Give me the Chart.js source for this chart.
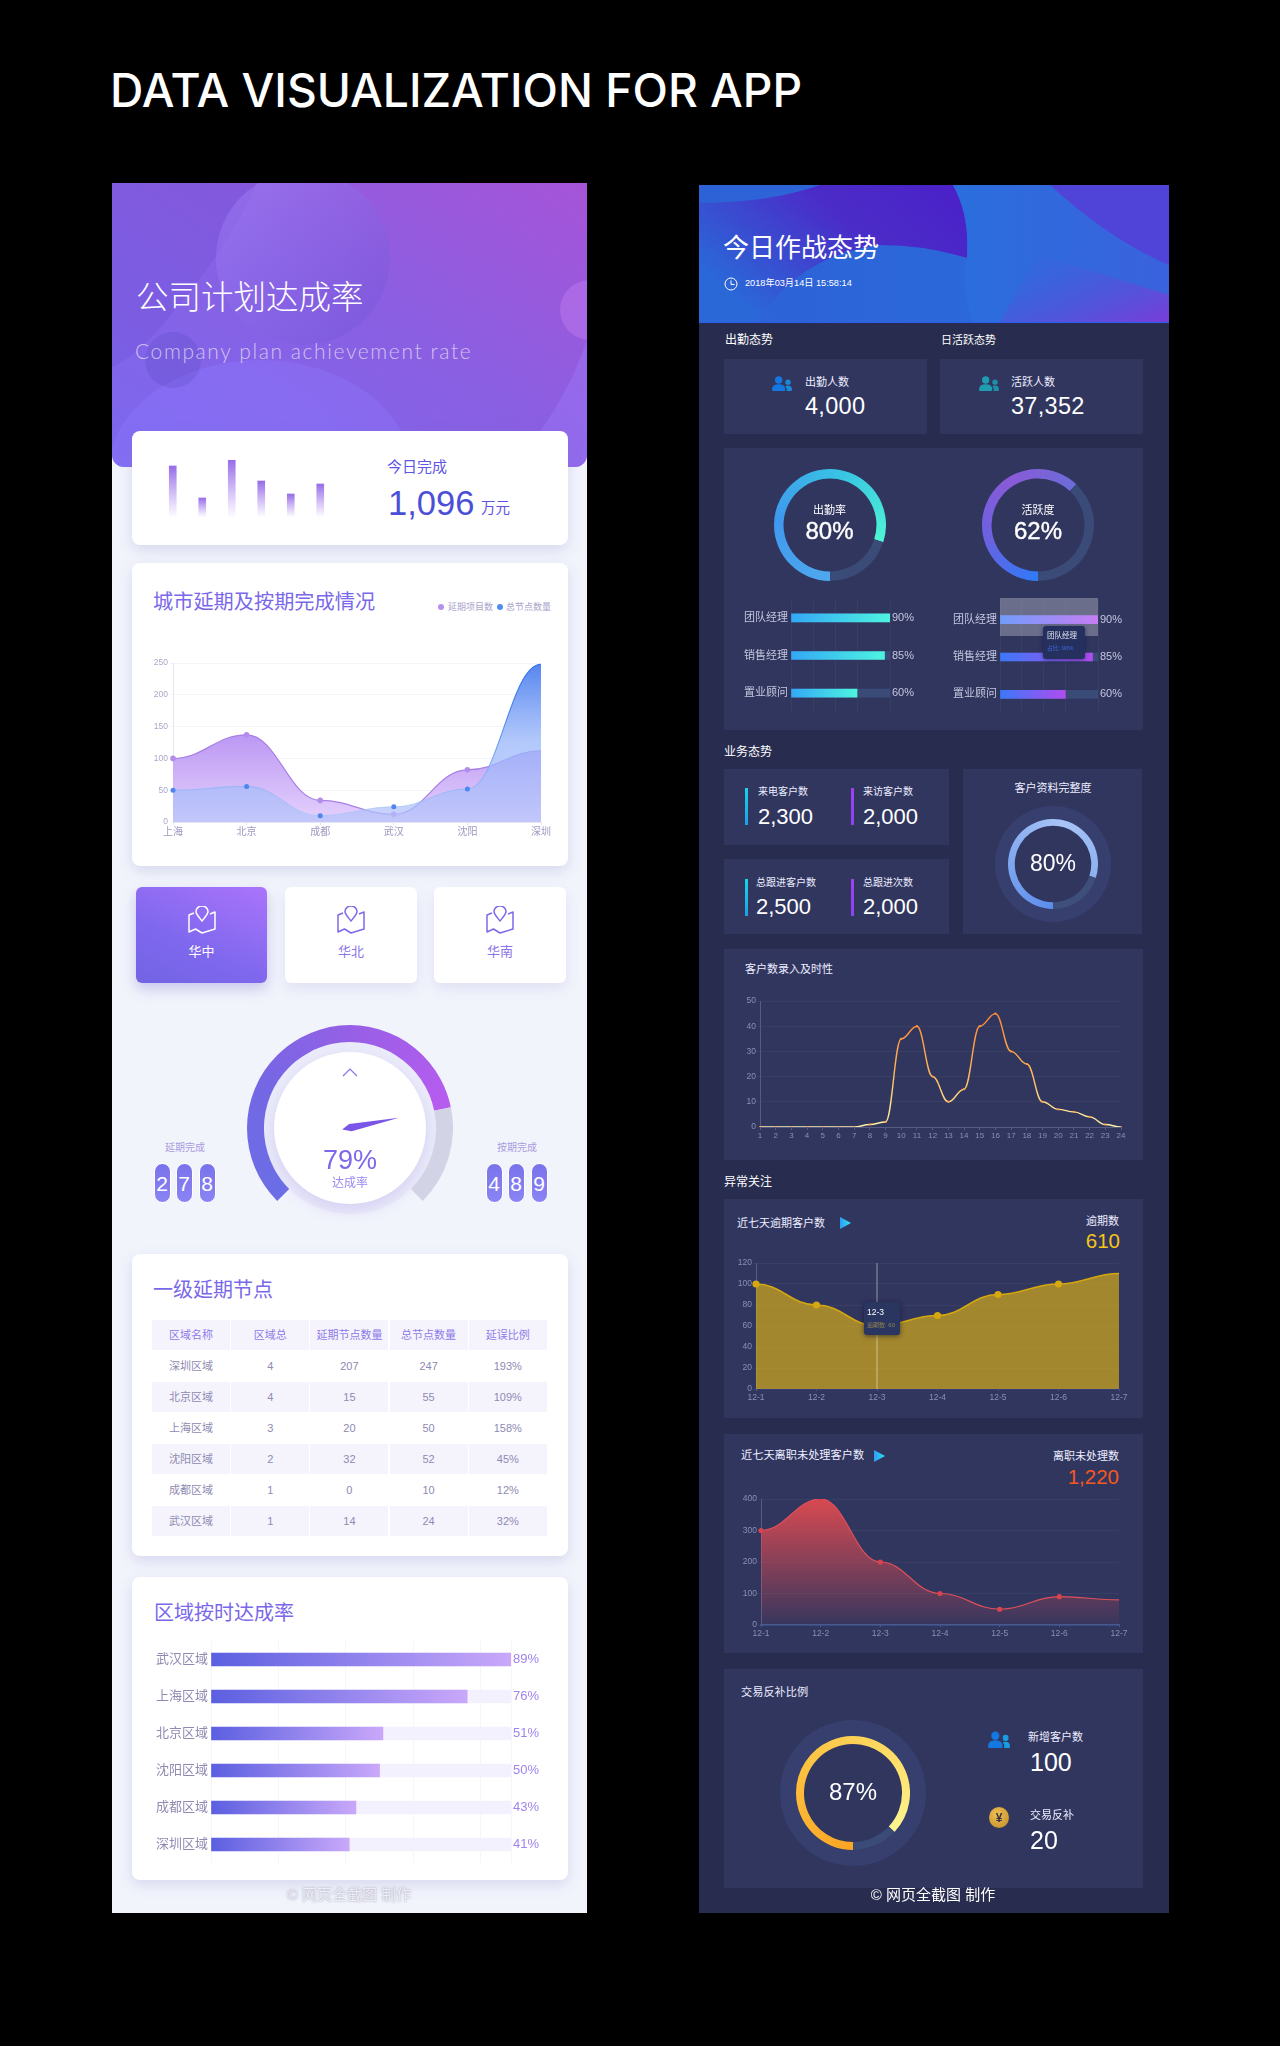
<!DOCTYPE html>
<html>
<head>
<meta charset="utf-8">
<title>Data visualization for app</title>
<script src="https://cdn.jsdelivr.net/npm/chart.js@4/dist/chart.umd.min.js"></script>
<style>
  html, body { margin: 0; padding: 0; background: #000; }
  #page { position: relative; width: 1280px; height: 2046px; overflow: hidden; background: #000;
    font-family: "Liberation Sans", "Noto Sans CJK SC", sans-serif; }
  #page > * { position: absolute; }
  .t { line-height: 1; white-space: nowrap; }
</style>
</head>
<body>
<div id="page"></div>
<script>
// ---- data ----
const miniValues = [51, 19, 57, 36, 23, 33];
const cityLabels = ["上海", "北京", "成都", "武汉", "沈阳", "深圳"];
const delayedProjects = [100, 137, 34, 12, 82, 112];
const totalNodes = [50, 56, 10, 24, 52, 248];
const gaugeRate = 79;
const tableHead = ["区域名称", "区域总", "延期节点数量", "总节点数量", "延误比例"];
const tableRows = [
  ["深圳区域", "4", "207", "247", "193%"],
  ["北京区域", "4", "15", "55", "109%"],
  ["上海区域", "3", "20", "50", "158%"],
  ["沈阳区域", "2", "32", "52", "45%"],
  ["成都区域", "1", "0", "10", "12%"],
  ["武汉区域", "1", "14", "24", "32%"]
];
const regionLabels = ["武汉区域", "上海区域", "北京区域", "沈阳区域", "成都区域", "深圳区域"];
const regionRates = [89, 76, 51, 50, 43, 41];
const roleLabels = ["团队经理", "销售经理", "置业顾问"];
const attendRates = [90, 85, 60];
const activeRates = [90, 85, 60];
const attendRing = [80, 20];
const activeRing = [62, 38];
const profileRing = [80, 20];
const tradeRing = [87, 13];
const hourLabels = ["1","2","3","4","5","6","7","8","9","10","11","12","13","14","15","16","17","18","19","20","21","22","23","24"];
const hourValues = [0, 0, 0, 0, 0, 0, 0, 1, 2, 35, 40, 20, 10, 15, 40, 45, 30, 25, 10, 7, 6, 4, 1, 0];
const dayLabels = ["12-1", "12-2", "12-3", "12-4", "12-5", "12-6", "12-7"];
const overdueValues = [100, 80, 60, 70, 90, 100, 110];
const leftValues = [300, 400, 200, 100, 50, 90, 80];

const FONT = '"Liberation Sans", "Noto Sans CJK SC", sans-serif';
Chart.defaults.font.family = FONT;
Chart.defaults.animation = false;
Chart.defaults.responsive = false;
Chart.defaults.plugins.legend.display = false;
Chart.defaults.plugins.tooltip.enabled = false;

const page = document.getElementById("page");

// ---- small dom helpers ----
function box(x0, y0, x1, y1, bg, extra) {
  const d = document.createElement("div");
  d.style.cssText = `left:${x0}px;top:${y0}px;width:${x1 - x0}px;height:${y1 - y0}px;background:${bg};${extra || ""}`;
  page.appendChild(d);
  return d;
}
function txt(x, cy, str, size, color, align, extra) {
  const d = document.createElement("div");
  d.className = "t";
  d.textContent = str;
  const tx = align === "center" ? "-50%" : align === "right" ? "-100%" : "0";
  d.style.cssText = `left:${x}px;top:${cy}px;font-size:${size}px;color:${color};transform:translate(${tx},-50%);${extra || ""}`;
  page.appendChild(d);
  return d;
}
function svg(x, y, w, h, viewBox, inner) {
  const d = document.createElement("div");
  d.style.cssText = `left:${x}px;top:${y}px;width:${w}px;height:${h}px;`;
  d.innerHTML = `<svg xmlns="http://www.w3.org/2000/svg" width="${w}" height="${h}" viewBox="${viewBox}" preserveAspectRatio="none" style="display:block">${inner}</svg>`;
  page.appendChild(d);
  return d;
}
function people(x, y, w, h, c1, c2) {
  svg(x, y, w, h, "0 0 30 22",
    `<circle cx="24" cy="9" r="4" fill="${c2}"/><path d="M22 22H28Q30 22 30 20Q30 14 24 14Q21 14 20 15Q23 17 22 22Z" fill="${c2}"/>` +
    `<circle cx="10" cy="6" r="5.5" fill="${c1}"/><path d="M0 20Q0 12 10 12Q20 12 20 20Q20 22 18 22H2Q0 22 0 20Z" fill="${c1}"/>`);
}
function arrow(x, y) {
  box(x, y, x + 11, y + 12, "linear-gradient(90deg,#2f9cf5,#2fe4ee)", "clip-path:polygon(0 0,100% 50%,0 100%);");
}
function canvasAt(x, y, w, h) {
  const c = document.createElement("canvas");
  c.width = w;
  c.height = h;
  c.style.cssText = `left:${x}px;top:${y}px;width:${w}px;height:${h}px;`;
  page.appendChild(c);
  return c;
}
// canvas whose plot area lands on x0..x1 / y0..y1
function plotCanvas(x0, y0, x1, y1, padL, padR, padT, padB) {
  return canvasAt(x0 - padL, y0 - padT, x1 - x0 + padL + padR, y1 - y0 + padT + padB);
}
const fitW = w => s => { s.width = w; };
const fitH = h => s => { s.height = h; };

// curves leave every point level, like the original
const flatCurve = {
  id: "flatCurve",
  beforeDatasetsDraw(chart) {
    chart.getSortedVisibleDatasetMetas().forEach(meta => {
      if (meta.type !== "line") return;
      meta.dataset.updateControlPoints(chart.chartArea, "x");
      const pts = meta.data;
      pts.forEach((p, i) => {
        const prev = pts[i - 1], next = pts[i + 1];
        p.cp1x = prev ? p.x - (p.x - prev.x) * 0.42 : p.x;
        p.cp1y = p.y;
        p.cp2x = next ? p.x + (next.x - p.x) * 0.42 : p.x;
        p.cp2y = p.y;
      });
    });
  }
};
Chart.register(flatCurve);

function vGrad(chart, top, bottom, stops) {
  const g = chart.ctx.createLinearGradient(0, top, 0, bottom);
  stops.forEach((c, i) => g.addColorStop(i / (stops.length - 1), c));
  return g;
}
const noLast = r => c => (c.dataIndex === c.dataset.data.length - 1 ? 0 : r);

function ring(cx, cy, R, cut, values, startDeg, sweep, stops, track) {
  // a partial ring gets fitted to the canvas, so cut the canvas to its bounding box
  const h = sweep < 360 ? Math.ceil(R * 1.7072) : R * 2;
  const c = canvasAt(cx - R, cy - R, R * 2, h);
  const canvasAngle = (startDeg - 90) * Math.PI / 180 - 0.05;
  const share = values[0] / (values[0] + values[1]) * sweep / 360;
  new Chart(c, {
    type: "doughnut",
    data: {
      datasets: [{
        data: values,
        borderWidth: 0,
        backgroundColor(ctx) {
          if (ctx.dataIndex === 1) return track;
          const g = ctx.chart.ctx.createConicGradient(canvasAngle, R, R);
          stops.forEach((col, i) => g.addColorStop(0.008 + i / (stops.length - 1) * share, col));
          return g;
        }
      }]
    },
    options: { rotation: startDeg, circumference: sweep, cutout: cut, events: [] }
  });
}

function hBars(x0, y0, x1, y1, labels, values, barH, padL, padR, colors, track, grid, labelFont, labelColor, valueFont, valueColor) {
  const top = Math.max(...values);
  new Chart(plotCanvas(x0, y0, x1, y1, padL, padR, 14, 14), {
    type: "bar",
    data: {
      labels: labels,
      datasets: [
        {
          data: values, grouped: false, barThickness: barH,
          backgroundColor(ctx) {
            const sx = ctx.chart.scales.x;
            if (!ctx.chart.chartArea) return colors[0];
            const g = ctx.chart.ctx.createLinearGradient(sx.left, 0, sx.getPixelForValue(ctx.raw), 0);
            g.addColorStop(0, colors[0]);
            g.addColorStop(1, colors[1]);
            return g;
          }
        },
        { data: values.map(() => top), grouped: false, barThickness: barH, backgroundColor: track }
      ]
    },
    options: {
      indexAxis: "y",
      layout: { padding: { top: 14, bottom: 14 } },
      scales: {
        x: { min: 0, max: top, ticks: { display: false, stepSize: 20 }, grid: { color: grid, drawTicks: false }, border: { display: false }, afterFit: fitH(0) },
        y: {
          ticks: { color: labelColor, font: { size: labelFont }, padding: 3, autoSkip: false },
          grid: { display: false, drawTicks: false }, border: { display: false }, afterFit: fitW(padL)
        },
        y2: {
          type: "category", position: "right", offset: true, labels: values.map(v => v + "%"),
          ticks: { color: valueColor, font: { size: valueFont }, padding: 2, autoSkip: false },
          grid: { display: false, drawTicks: false }, border: { display: false }, afterFit: fitW(padR)
        }
      }
    }
  });
}

// ---- page title ----
txt(110, 90, "DATA VISUALIZATION FOR APP", 46.2, "#fff", "left", "font-family:Inter,'Liberation Sans';font-weight:500;");

// ---- left panel ----
box(112, 183, 587, 1913, "#f2f4fc");
const leftHead = box(112, 183, 587, 467, "linear-gradient(215deg,#a654d8 0%,#8a5fe2 45%,#7c68ee 100%)", "border-radius:0 0 12px 12px;overflow:hidden;");
leftHead.innerHTML = `<svg xmlns="http://www.w3.org/2000/svg" width="475" height="284" style="display:block">
  <defs><linearGradient id="lb" x1="0" y1="0" x2="1" y2="1"><stop offset="0" stop-color="#a98cff" stop-opacity=".45"/><stop offset="1" stop-color="#6a4ad0" stop-opacity=".35"/></linearGradient></defs>
  <path d="M0 0H145Q120 60 60 130Q30 170 0 184Z" fill="#5a40c8" fill-opacity=".16"/>
  <ellipse cx="148" cy="290" rx="152" ry="113" fill="#8e78ff" fill-opacity=".38"/>
  <circle cx="191" cy="75" r="87" fill="url(#lb)"/>
  <circle cx="61" cy="177" r="28" fill="#5a4ac0" fill-opacity=".26"/>
  <circle cx="478" cy="127" r="30" fill="#c07cf0" fill-opacity=".45"/>
  <path d="M398 284Q450 230 475 157V284Z" fill="#9c78f8" fill-opacity=".45"/>
</svg>`;
txt(136, 298, "公司计划达成率", 32.5, "#fff", "left", "font-weight:300;");
txt(135, 350, "Company plan achievement rate", 21, "rgba(255,255,255,.62)", "left", "font-family:Lato,Roboto;font-weight:300;letter-spacing:1.6px;");

const cardShadow = "border-radius:8px;box-shadow:0 5px 14px rgba(120,120,190,.22);";
box(132, 431, 568, 545, "#fff", cardShadow);
new Chart(plotCanvas(158, 460, 335, 517, 0, 0, 0, 0), {
  type: "bar",
  data: {
    labels: miniValues.map((v, i) => i + 1),
    datasets: [{
      data: miniValues, barThickness: 7,
      backgroundColor(ctx) {
        if (!ctx.chart.chartArea) return "#9a70ea";
        const sy = ctx.chart.scales.y;
        return vGrad(ctx.chart, sy.getPixelForValue(ctx.raw), sy.bottom, ["#966ce8", "rgba(170,130,240,.02)"]);
      }
    }]
  },
  options: { layout: { padding: 0 }, scales: { x: { display: false }, y: { display: false, min: 0, max: 57 } } }
});
txt(387, 466, "今日完成", 15, "#5f55e4");
txt(388, 503, "1,096", 34.5, "#4b4fd8");
txt(481, 508, "万元", 14.5, "#5f55e4");

// city chart
box(132, 563, 568, 866, "#fff", cardShadow);
txt(153, 602, "城市延期及按期完成情况", 20.2, "#7a68ea");
box(438, 604, 444, 610, "#b690ec", "border-radius:50%;");
txt(448, 607, "延期项目数", 9, "#a9a4cc");
box(497, 604, 503, 610, "#4f8cf0", "border-radius:50%;");
txt(506, 607, "总节点数量", 9, "#a9a4cc");
new Chart(plotCanvas(173, 663, 541, 822, 40, 25, 8, 24), {
  type: "line",
  data: {
    labels: cityLabels,
    datasets: [
      {
        data: totalNodes, fill: "origin", borderWidth: 1.2, tension: 0.4,
        pointRadius: noLast(2.5), pointBackgroundColor: "#4d86ee", pointBorderWidth: 0,
        borderColor(ctx) {
          if (!ctx.chart.chartArea) return "#5a8cf0";
          const a = ctx.chart.chartArea;
          return vGrad(ctx.chart, a.top, a.bottom, ["#2f6fe6", "#6a9cf0", "rgba(170,200,250,.5)"]);
        },
        backgroundColor(ctx) {
          if (!ctx.chart.chartArea) return "#8ab";
          const a = ctx.chart.chartArea;
          return vGrad(ctx.chart, a.top, a.bottom, ["rgba(80,130,238,.98)", "rgba(150,180,250,.72)", "rgba(180,195,250,.72)"]);
        }
      },
      {
        data: delayedProjects, fill: "origin", borderColor: "#a880e6", borderWidth: 1.2, tension: 0.4,
        pointRadius: noLast(2.8), pointBackgroundColor: "#b48cea", pointBorderWidth: 0,
        backgroundColor(ctx) {
          if (!ctx.chart.chartArea) return "#b9e";
          const a = ctx.chart.chartArea;
          return vGrad(ctx.chart, a.top + 50, a.bottom, ["rgba(172,130,240,.95)", "rgba(226,204,252,.9)"]);
        }
      }
    ]
  },
  options: {
    layout: { padding: { top: 8, right: 25 } },
    scales: {
      x: {
        ticks: { color: "#9d98c0", font: { size: 10 }, padding: 1, maxRotation: 0, autoSkip: false },
        grid: { drawOnChartArea: false, tickLength: 3, tickColor: "#e6e6f2" }, border: { color: "#e6e6f2" }, afterFit: fitH(24)
      },
      y: {
        min: 0, max: 250, ticks: { stepSize: 50, color: "#aaa6c8", font: { size: 8.5 }, padding: 2 },
        grid: { color: "#f4f4fb", tickLength: 3 }, border: { color: "#e6e6f2" }, afterFit: fitW(40)
      }
    }
  }
});

// region tabs
const pin = c => `<g fill="none" stroke="${c}" stroke-width="1.5" stroke-linejoin="round"><path d="M14 15C10 10 8 8 8 5.5A6 5.5 0 0 1 20 5.5C20 8 18 10 14 15Z"/><path d="M6 7L1 9V26L7.5 23L14 27L27 23V6L22 8"/></g>`;
[["华中", 136, 267], ["华北", 285, 417], ["华南", 434, 566]].forEach((r, i) => {
  const on = i === 0;
  box(r[1], 887, r[2], 983, on ? "linear-gradient(205deg,#aa74fb 0%,#7f68ee 60%,#7264e4 100%)" : "#fff",
    "border-radius:6px;box-shadow:0 6px 14px rgba(120,110,200," + (on ? ".35" : ".14") + ");");
  const cx = (r[1] + r[2]) / 2;
  svg(cx - 14, 906, 28, 28, "0 0 28 28", pin(on ? "#fff" : "#7f68e8"));
  txt(cx, 951, r[0], 13, on ? "#fff" : "#8b74e8", "center");
});

// gauge
box(264, 1042, 436, 1214, "#ebecfa", "border-radius:50%;");
box(274, 1052, 426, 1204, "#fff", "border-radius:50%;box-shadow:0 6px 16px rgba(130,110,220,.22);");
ring(350, 1128, 103, "83.5%", [gaugeRate, 100 - gaugeRate], -135, 270, ["#6b6ee6", "#7467e4", "#9a5fe6", "#b85cf0"], "#d2d4e6");
const needle = svg(300, 1078, 100, 100, "-50 -50 100 100",
  `<polygon points="0,-50 3.6,-1 0,8 -4,0" fill="#7a55e8"/>`);
needle.firstChild.style.transform = `rotate(${-135 + 270 * gaugeRate / 100}deg)`;
svg(342, 1067, 16, 10, "0 0 16 10", `<path d="M1 9L8 2L15 9" fill="none" stroke="#8a70ea" stroke-width="1.2"/>`);
txt(350, 1160, gaugeRate + "%", 27, "#7b68ea", "center");
txt(350, 1183, "达成率", 12, "#9a86ee", "center");
txt(185, 1148, "延期完成", 10, "#a99cde", "center");
txt(517, 1148, "按期完成", 10, "#a99cde", "center");
[[162, "2"], [184, "7"], [207, "8"], [494, "4"], [516, "8"], [539, "9"]].forEach(p => {
  box(p[0] - 8.5, 1163, p[0] + 8.5, 1203, "linear-gradient(180deg,#7a72ea,#8a84f4)", "border-radius:9px;border:1px solid #fff;box-sizing:border-box;");
  txt(p[0], 1183, p[1], 21, "#fff", "center");
});

// table
box(132, 1254, 568, 1556, "#fff", cardShadow);
txt(153, 1290, "一级延期节点", 20, "#7a68ea");
[tableHead].concat(tableRows).forEach((row, r) => {
  row.forEach((cell, c) => {
    const x = 152 + c * 79.2;
    const y = 1320 + r * 31;
    if (r % 2 === 0) box(x, y, x + 78, y + 30, "#f5f4fd");
    txt(x + 39, y + 15, cell, 11, r === 0 ? "#8e7be8" : "#8e8ab2", "center");
  });
});

// region rate bars
box(132, 1577, 568, 1880, "#fff", cardShadow);
txt(154, 1613, "区域按时达成率", 20, "#7a68ea");
hBars(211, 1641, 511, 1863, regionLabels, regionRates, 13, 60, 50,
  ["#5b5fe0", "#c9a8fa"], "#f3f1fd", "#f5f5fb", 13, "#8f8ab2", 13, "#a084ee");
txt(349, 1894, "© 网页全截图 制作", 15, "#eeeef5", "center", "text-shadow:0 0 2px rgba(120,120,150,.75);");

// ---- right panel ----
box(699, 185, 1169, 1913, "#282c4e");
const rightHead = box(699, 185, 1169, 323, "linear-gradient(90deg,#2d62d6,#2a6cdc)", "overflow:hidden;border-bottom:1px solid #2c5ef0;box-sizing:border-box;");
rightHead.innerHTML = `<svg xmlns="http://www.w3.org/2000/svg" width="470" height="138" style="display:block">
  <defs>
    <linearGradient id="rp" x1="1" y1="0" x2="0" y2="0.6"><stop offset="0" stop-color="#4a20c8"/><stop offset=".45" stop-color="#4b2cc8"/><stop offset="1" stop-color="#2a68d8"/></linearGradient>
    <linearGradient id="rb" x1="0" y1="0" x2="1" y2="0"><stop offset="0" stop-color="#2a6edc"/><stop offset="1" stop-color="#3a62de"/></linearGradient>
    <linearGradient id="rc" x1="0" y1="0" x2="1" y2="1"><stop offset="0" stop-color="#3a62de" stop-opacity="0"/><stop offset="1" stop-color="#7a3cd8"/></linearGradient>
  </defs>
  <path d="M0 18Q70 18 121 0H254Q271 30 268 73Q226 60 181 60Q100 70 58 138H0Z" fill="url(#rp)"/>
  <path d="M254 0H470V138H273Q263 100 268 73Q271 30 254 0Z" fill="url(#rb)"/>
  <path d="M351 0H470V80Q411 55 351 0Z" fill="#5044d8"/>
  <path d="M341 70L470 110V138H301Q321 100 341 70Z" fill="url(#rc)"/>
</svg>`;
txt(723, 248, "今日作战态势", 26, "#fff");
svg(724, 277, 14, 14, "0 0 14 14", `<circle cx="7" cy="7" r="6" fill="none" stroke="#fff"/><path d="M7 3.5V7.5H10.5" fill="none" stroke="#fff"/>`);
txt(745, 284, "2018年03月14日 15:58:14", 9.2, "#fff");

const cardDark = "#31365f";
txt(725, 340, "出勤态势", 12, "#fff");
txt(941, 340, "日活跃态势", 11, "#fff");
box(724, 359, 927, 434, cardDark);
box(940, 359, 1143, 434, cardDark);
people(772, 376, 20, 15, "#1478e0", "#1a8ad8");
people(979, 376, 20, 15, "#1f9cb0", "#1f8ea8");
txt(805, 382, "出勤人数", 11, "#eef");
txt(805, 407, "4,000", 23.5, "#fff", "left", "letter-spacing:.3px;");
txt(1011, 382, "活跃人数", 11, "#eef");
txt(1011, 407, "37,352", 23.5, "#fff", "left", "letter-spacing:.3px;");

box(724, 448, 1143, 730, cardDark);
ring(829.5, 525, 56, "83%", attendRing, 180, 360, ["#4fa8ee", "#3f98ee", "#38c4e4", "#4ff4d4"], "#3a4b78");
ring(1038, 525, 56, "83%", activeRing, 180, 360, ["#2f7af8", "#6a62e0", "#8a5ad8", "#6c6cd8"], "#3a4b78");
txt(829.5, 510, "出勤率", 11, "#fff", "center");
txt(829.5, 531, "80%", 24, "#fff", "center", "-webkit-text-stroke:.4px #fff;");
txt(1038, 510, "活跃度", 11, "#fff", "center");
txt(1038, 531, "62%", 24, "#fff", "center", "-webkit-text-stroke:.4px #fff;");
hBars(791, 599, 890, 712, roleLabels, attendRates, 8, 60, 32,
  ["#33a8f5", "#4ef4e0"], "#3a4b78", "rgba(255,255,255,.045)", 11, "#c4c7de", 11, "#c4c7de");
hBars(1000, 601, 1098, 713, roleLabels, activeRates, 8, 60, 32,
  ["#3b78f8", "#b04cf0"], "#3a4b78", "rgba(255,255,255,.045)", 11, "#c4c7de", 11, "#c4c7de");
box(1000, 598, 1098, 636, "rgba(255,255,255,.28)");
box(1043, 626, 1085, 659, "#25305e", "border-radius:3px;box-shadow:0 1px 4px rgba(10,15,50,.5);");
txt(1047, 636, "团队经理", 7.5, "#dfe2f2");
txt(1047, 649, "占比: 90%", 5.8, "#3d6ae0");

txt(724, 752, "业务态势", 12, "#fff");
box(724, 769, 949, 845, cardDark);
box(724, 859, 949, 934, cardDark);
box(963, 769, 1142, 934, cardDark);
[[745, 788], [745, 879]].forEach(p => box(p[0], p[1], p[0] + 3, p[1] + 37, "linear-gradient(180deg,#18d4e8,#1aa0e8)"));
[[851, 788], [851, 879]].forEach(p => box(p[0], p[1], p[0] + 3, p[1] + 37, "linear-gradient(180deg,#a040f0,#8a44f0)"));
txt(758, 792, "来电客户数", 10, "#eef");
txt(758, 817, "2,300", 22, "#fff");
txt(863, 792, "来访客户数", 10, "#eef");
txt(863, 817, "2,000", 22, "#fff");
txt(756, 883, "总跟进客户数", 10, "#eef");
txt(756, 907, "2,500", 22, "#fff");
txt(863, 883, "总跟进次数", 10, "#eef");
txt(863, 907, "2,000", 22, "#fff");
txt(1053, 788, "客户资料完整度", 11, "#eef", "center");
box(995, 806, 1111, 922, "#363f6d", "border-radius:50%;");
box(1010, 821, 1096, 907, cardDark, "border-radius:50%;");
ring(1053, 864, 45, "85%", profileRing, 180, 360, ["#5b8dea", "#80a8f0", "#a8c4f8", "#8cb0f0"], "#3e4f7c");
txt(1053, 863, "80%", 23, "#fff", "center");

// hourly line
box(724, 949, 1143, 1160, cardDark);
txt(745, 969, "客户数录入及时性", 11, "#eef");
new Chart(plotCanvas(760, 1001, 1121, 1127, 30, 15, 8, 20), {
  type: "line",
  data: {
    labels: hourLabels,
    datasets: [{
      data: hourValues, fill: false, borderWidth: 1.4, tension: 0.4,
      pointRadius: 1.1, pointBorderWidth: 0, pointBackgroundColor: "#ff9a3c",
      borderColor(ctx) {
        if (!ctx.chart.chartArea) return "#fa3";
        const a = ctx.chart.chartArea;
        return vGrad(ctx.chart, a.top, a.bottom, ["#ff7a30", "#ffb050", "#fff2a8"]);
      }
    }]
  },
  options: {
    layout: { padding: { top: 8, right: 15 } },
    scales: {
      x: {
        ticks: { color: "#8a8fb2", font: { size: 8 }, padding: 1, maxRotation: 0, autoSkip: false },
        grid: { drawOnChartArea: false, tickLength: 3, tickColor: "#555b85" }, border: { color: "#555b85" }, afterFit: fitH(20)
      },
      y: {
        min: 0, max: 50, ticks: { stepSize: 10, color: "#8a8fb2", font: { size: 8.5 }, padding: 1 },
        grid: { color: "rgba(255,255,255,.045)", tickLength: 3 }, border: { color: "#555b85" }, afterFit: fitW(30)
      }
    }
  }
});

// overdue area
txt(724, 1182, "异常关注", 12, "#fff");
box(724, 1199, 1143, 1418, cardDark);
txt(737, 1223, "近七天逾期客户数", 11, "#eef");
arrow(840, 1217);
txt(1119, 1221, "逾期数", 11, "#eef", "right");
txt(1120, 1241, "610", 20.5, "#f5c518", "right");
const crosshair = {
  id: "crosshair",
  afterDatasetsDraw(chart, a, opts) {
    const x = chart.scales.x.getPixelForValue(opts.index);
    const c = chart.ctx;
    c.save();
    c.strokeStyle = "rgba(255,255,255,.32)";
    c.lineWidth = 1.5;
    c.beginPath();
    c.moveTo(x, chart.chartArea.top);
    c.lineTo(x, chart.chartArea.bottom);
    c.stroke();
    c.restore();
  }
};
new Chart(plotCanvas(756, 1263, 1119, 1389, 32, 20, 8, 20), {
  type: "line",
  data: {
    labels: dayLabels,
    datasets: [{
      data: overdueValues, fill: "origin", tension: 0.4,
      borderColor: "#d4a80e", borderWidth: 1.6, backgroundColor: "rgba(212,170,25,.7)",
      pointRadius: noLast(3.6), pointBackgroundColor: "#d4a80e", pointBorderWidth: 0
    }]
  },
  options: {
    layout: { padding: { top: 8, right: 20 } },
    plugins: { crosshair: { index: 2 } },
    scales: {
      x: {
        ticks: { color: "#8a8fb2", font: { size: 8.5 }, padding: 2, maxRotation: 0, autoSkip: false },
        grid: { drawOnChartArea: false, tickLength: 2, tickColor: "#4a5a98" }, border: { color: "#2f3c86", width: 1.5 }, afterFit: fitH(20)
      },
      y: {
        min: 0, max: 120, ticks: { stepSize: 20, color: "#8a8fb2", font: { size: 8.5 }, padding: 1 },
        grid: { color: "rgba(255,255,255,.045)", tickLength: 3 }, border: { color: "#555b85" }, afterFit: fitW(32)
      }
    }
  },
  plugins: [crosshair]
});
box(864, 1302, 900, 1335, "#2a3560", "border-radius:3px;box-shadow:0 1px 5px rgba(15,15,40,.6);");
txt(867, 1312, "12-3", 8.5, "#fff");
txt(867, 1325, "逾期数: 60", 6, "#8f8450");

// left-staff area
box(724, 1434, 1143, 1653, cardDark);
txt(741, 1456, "近七天离职未处理客户数", 11.2, "#eef");
arrow(874, 1450);
txt(1119, 1456, "离职未处理数", 11, "#eef", "right");
txt(1119, 1477, "1,220", 20.5, "#f5581e", "right");
new Chart(plotCanvas(761, 1499, 1119, 1625, 32, 20, 8, 20), {
  type: "line",
  data: {
    labels: dayLabels,
    datasets: [{
      data: leftValues, fill: "origin", tension: 0.4,
      borderColor: "#e0505a", borderWidth: 1.2,
      pointRadius: noLast(2.6), pointBackgroundColor: "#d9434e", pointBorderWidth: 0,
      backgroundColor(ctx) {
        if (!ctx.chart.chartArea) return "#c55";
        const a = ctx.chart.chartArea;
        return vGrad(ctx.chart, a.top, a.bottom, ["rgba(225,75,80,.95)", "rgba(225,75,80,.04)"]);
      }
    }]
  },
  options: {
    layout: { padding: { top: 8, right: 20 } },
    scales: {
      x: {
        ticks: { color: "#8a8fb2", font: { size: 8.5 }, padding: 2, maxRotation: 0, autoSkip: false },
        grid: { drawOnChartArea: false, tickLength: 2, tickColor: "#4a5a98" }, border: { color: "#3f5a94", width: 1.5 }, afterFit: fitH(20)
      },
      y: {
        min: 0, max: 400, ticks: { stepSize: 100, color: "#8a8fb2", font: { size: 8.5 }, padding: 1 },
        grid: { color: "rgba(255,255,255,.045)", tickLength: 3 }, border: { color: "#555b85" }, afterFit: fitW(32)
      }
    }
  }
});

// trade ring
box(724, 1669, 1143, 1888, cardDark);
txt(741, 1693, "交易反补比例", 11.2, "#eef");
box(780, 1720, 926, 1866, "#363f6d", "border-radius:50%;");
box(796, 1736, 910, 1850, cardDark, "border-radius:50%;");
ring(853, 1793, 57, "86%", tradeRing, 180, 360, ["#fba524", "#fdbe3c", "#fdd860", "#fdf590"], "#3a4b78");
txt(853, 1792, "87%", 24, "#fff", "center");
people(988, 1731, 22, 17, "#1478e0", "#1a9ce0");
txt(1028, 1737, "新增客户数", 11, "#eef");
txt(1030, 1762, "100", 25, "#fff");
box(989, 1807, 1009, 1828, "radial-gradient(circle at 40% 35%,#eec050,#c08a28)", "border-radius:50%;");
txt(999, 1818, "¥", 12, "#3a3048", "center", "font-weight:bold;");
txt(1030, 1815, "交易反补", 11, "#eef");
txt(1030, 1840, "20", 25, "#fff");
txt(933, 1894, "© 网页全截图 制作", 15, "#fff", "center");
</script>
</body>
</html>
